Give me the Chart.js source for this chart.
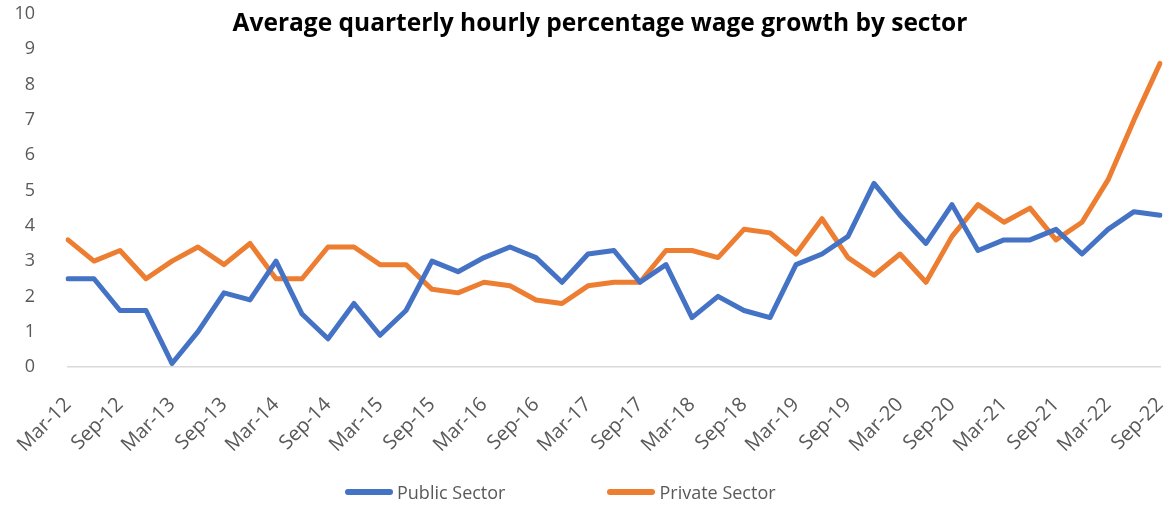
<!DOCTYPE html>
<html>
<head>
<meta charset="utf-8">
<script src="https://cdn.jsdelivr.net/npm/chart.js@4"></script>
<style>
  html, body { margin: 0; padding: 0; background: #fff; overflow: hidden; }
  #wrap { position: relative; width: 1166px; height: 506px; }
  #title { position: absolute; left: 600px; top: 10px; transform: translateX(-50%);
           white-space: nowrap; font: bold 24.5px/24px 'Open Sans'; color: #000; }
  #legend { position: absolute; top: 480px; left: 345px; display: flex; align-items: center;
            font: 18px 'Open Sans'; color: #595959; }
  .item { display: flex; align-items: center; }
  .swatch { width: 48px; height: 6px; border-radius: 3px; margin-right: 4px; }
</style>
</head>
<body>
<div id="wrap">
  <canvas id="canvas" width="1166" height="506"></canvas>
  <div id="title">Average quarterly hourly percentage wage growth by sector</div>
  <div id="legend">
    <div class="item" style="margin-right:102px"><span class="swatch" style="background:#4472C4"></span>Public Sector</div>
    <div class="item"><span class="swatch" style="background:#ED7D31"></span>Private Sector</div>
  </div>
</div>
<script>
var quarters = [
    'Mar-12', 'Jun-12', 'Sep-12', 'Dec-12',
    'Mar-13', 'Jun-13', 'Sep-13', 'Dec-13',
    'Mar-14', 'Jun-14', 'Sep-14', 'Dec-14',
    'Mar-15', 'Jun-15', 'Sep-15', 'Dec-15',
    'Mar-16', 'Jun-16', 'Sep-16', 'Dec-16',
    'Mar-17', 'Jun-17', 'Sep-17', 'Dec-17',
    'Mar-18', 'Jun-18', 'Sep-18', 'Dec-18',
    'Mar-19', 'Jun-19', 'Sep-19', 'Dec-19',
    'Mar-20', 'Jun-20', 'Sep-20', 'Dec-20',
    'Mar-21', 'Jun-21', 'Sep-21', 'Dec-21',
    'Mar-22', 'Jun-22', 'Sep-22'
];

var publicSector = [
    2.5, 2.5, 1.6, 1.6, 0.1, 1.0, 2.1, 1.9, 3.0, 1.5, 0.8, 1.8,
    0.9, 1.6, 3.0, 2.7, 3.1, 3.4, 3.1, 2.4, 3.2, 3.3, 2.4, 2.9,
    1.4, 2.0, 1.6, 1.4, 2.9, 3.2, 3.7, 5.2, 4.3, 3.5, 4.6, 3.3,
    3.6, 3.6, 3.9, 3.2, 3.9, 4.4, 4.3
];

var privateSector = [
    3.6, 3.0, 3.3, 2.5, 3.0, 3.4, 2.9, 3.5, 2.5, 2.5, 3.4, 3.4,
    2.9, 2.9, 2.2, 2.1, 2.4, 2.3, 1.9, 1.8, 2.3, 2.4, 2.4, 3.3,
    3.3, 3.1, 3.9, 3.8, 3.2, 4.2, 3.1, 2.6, 3.2, 2.4, 3.7, 4.6,
    4.1, 4.5, 3.6, 4.1, 5.3, 7.0, 8.6
];

var yMin = 0, yMax = 10, yStep = 1;

var wages = {
    labels: quarters,
    datasets: [
        {
            label: 'Public Sector',
            borderColor: '#4472C4',
            borderWidth: 5,
            borderCapStyle: 'round',
            borderJoinStyle: 'round',
            pointRadius: 0,
            lineTension: 0,
            fill: false,
            data: publicSector
        }, {
            label: 'Private Sector',
            borderColor: '#ED7D31',
            borderWidth: 5,
            borderCapStyle: 'round',
            borderJoinStyle: 'round',
            pointRadius: 0,
            lineTension: 0,
            fill: false,
            data: privateSector
        }
    ]
};

plot();
function plot() {
    var context = document.getElementById('canvas').getContext('2d');
    var wageChart = new Chart(
        context,
        {
            type: 'line',
            data: wages,
            options: {
                responsive: false,
                animation: false,
                layout: { padding: { top: 14, right: 6, bottom: 45, left: 0 } },
                plugins: {
                    legend: { display: false },
                    tooltip: { enabled: false }
                },
                scales: {
                    x: {
                        offset: false,
                        grid: { display: false, drawTicks: false },
                        border: { display: true, color: '#d9d9d9', width: 1.5 },
                        ticks: {
                            autoSkip: false,
                            maxRotation: 45,
                            minRotation: 45,
                            padding: 26,
                            color: '#595959',
                            font: { family: 'Open Sans', size: 20 },
                            callback: function (value, index) {
                                return index % 2 === 0 ? this.getLabelForValue(value) : '';
                            }
                        },
                        afterFit: function (scale) {
                            scale.height = 94;
                            scale.paddingLeft = 0;
                            scale.paddingRight = 0;
                        }
                    },
                    y: {
                        min: yMin,
                        max: yMax,
                        grid: { display: false, drawTicks: false },
                        border: { display: false },
                        ticks: {
                            stepSize: yStep,
                            padding: 33,
                            color: '#595959',
                            font: { family: 'Open Sans', size: 18 }
                        },
                        afterFit: function (scale) {
                            scale.width = 68;
                            scale.paddingTop = 0;
                            scale.paddingBottom = 0;
                        }
                    }
                }
            }
        }
    );
}
</script>
</body>
</html>
